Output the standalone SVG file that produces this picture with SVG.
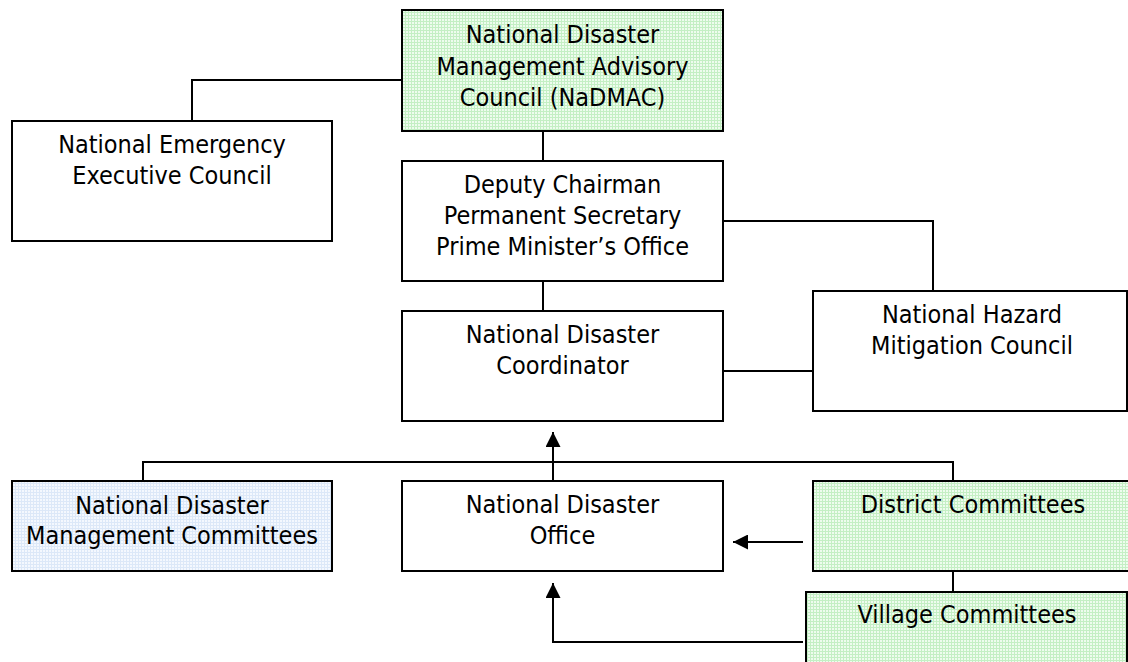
<svg xmlns="http://www.w3.org/2000/svg" width="1128" height="662" viewBox="0 0 1128 662">
  <style>
    .box { stroke: #000; stroke-width: 2; }
    .plain { fill: #fff; }
    .green { fill: url(#gridGreen); }
    .blue { fill: url(#gridBlue); }
    .lbl { font-family: "DejaVu Sans Condensed", "DejaVu Sans", sans-serif; font-size: 25px; fill: #000; text-anchor: middle; }
    .wire { fill: none; stroke: #000; stroke-width: 2; }
  </style>
  <defs>
    <pattern id="gridGreen" width="3" height="3" patternUnits="userSpaceOnUse">
      <rect width="3" height="3" fill="#eefcee"/>
      <rect width="3" height="1" fill="#c4efc4"/>
      <rect width="1" height="3" fill="#c4efc4"/>
    </pattern>
    <pattern id="gridBlue" width="3" height="3" patternUnits="userSpaceOnUse">
      <rect width="3" height="3" fill="#f4f8fe"/>
      <rect width="3" height="1" fill="#dce8f8"/>
      <rect width="1" height="3" fill="#dce8f8"/>
    </pattern>
    <marker id="arrow" markerUnits="userSpaceOnUse" markerWidth="15" markerHeight="15" refX="15" refY="7.5" orient="auto">
      <path d="M0,0 L15,7.5 L0,15 z" fill="#000"/>
    </marker>
  </defs>

  <!-- connectors -->
  <g id="connectors">
    <path class="wire" d="M402,80 H192 V121"/>
    <path class="wire" d="M543,131 V161"/>
    <path class="wire" d="M543,281 V311"/>
    <path class="wire" d="M723,221 H933 V291"/>
    <path class="wire" d="M723,371 H813"/>
    <path class="wire" d="M143,481 V462 H953 V481"/>
    <path class="wire" d="M553,481 V432" marker-end="url(#arrow)"/>
    <path class="wire" d="M803,542 H733" marker-end="url(#arrow)"/>
    <path class="wire" d="M803,642 H553 V583" marker-end="url(#arrow)"/>
    <path class="wire" d="M953,571 V592"/>
  </g>

  <g id="nadmac">
    <rect class="box green" x="402" y="10" width="321" height="121"/>
    <text class="lbl" x="562.5" y="43">National Disaster</text>
    <text class="lbl" x="562.5" y="74.5">Management Advisory</text>
    <text class="lbl" x="562.5" y="106">Council (NaDMAC)</text>
  </g>

  <g id="neec">
    <rect class="box plain" x="12" y="121" width="320" height="120"/>
    <text class="lbl" x="172" y="153">National Emergency</text>
    <text class="lbl" x="172" y="184">Executive Council</text>
  </g>

  <g id="deputy-chairman">
    <rect class="box plain" x="402" y="161" width="321" height="120"/>
    <text class="lbl" x="562.5" y="193">Deputy Chairman</text>
    <text class="lbl" x="562.5" y="224">Permanent Secretary</text>
    <text class="lbl" x="562.5" y="255">Prime Minister’s Office</text>
  </g>

  <g id="coordinator">
    <rect class="box plain" x="402" y="311" width="321" height="110"/>
    <text class="lbl" x="562.5" y="343">National Disaster</text>
    <text class="lbl" x="562.5" y="374">Coordinator</text>
  </g>

  <g id="nhmc">
    <rect class="box plain" x="813" y="291" width="314" height="120"/>
    <text class="lbl" x="972" y="323">National Hazard</text>
    <text class="lbl" x="972" y="354">Mitigation Council</text>
  </g>

  <g id="ndmc">
    <rect class="box blue" x="12" y="481" width="320" height="90"/>
    <text class="lbl" x="172" y="514">National Disaster</text>
    <text class="lbl" x="172" y="544">Management Committees</text>
  </g>

  <g id="ndo">
    <rect class="box plain" x="402" y="481" width="321" height="90"/>
    <text class="lbl" x="562.5" y="513">National Disaster</text>
    <text class="lbl" x="562.5" y="544">Office</text>
  </g>

  <g id="district">
    <rect class="box green" x="813" y="481" width="320" height="90"/>
    <text class="lbl" x="973" y="513">District Committees</text>
  </g>

  <g id="village">
    <rect class="box green" x="806" y="592" width="321" height="80"/>
    <text class="lbl" x="967" y="623">Village Committees</text>
  </g>
</svg>
